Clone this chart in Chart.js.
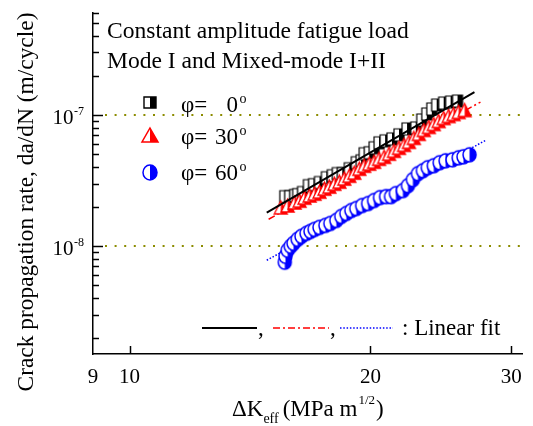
<!DOCTYPE html>
<html>
<head>
<meta charset="utf-8">
<script src="https://cdn.jsdelivr.net/npm/chart.js@4.4.0/dist/chart.umd.min.js"></script>
<style>
  html, body { margin: 0; padding: 0; background: #fff; }
  #wrap { width: 533px; height: 426px; }
</style>
</head>
<body>
<div id="wrap"><canvas id="c" width="533" height="426"></canvas></div>
<script>
// phi = 0 deg (squares): delta K_eff (MPa m^1/2) and da/dN (m/cycle)
const k0 = [15.63, 15.85, 16.08, 16.22, 16.45, 16.73, 16.98, 17.27, 17.62, 17.92, 18.18, 18.44, 18.82, 19.20, 19.47, 19.64,
            19.93, 20.21, 20.50, 20.86, 21.28, 21.71, 22.22, 22.79, 23.18, 23.52, 23.86, 24.20, 24.69, 25.19, 25.70];
const r0 = [2.38e-8, 2.38e-8, 2.43e-8, 2.47e-8, 2.56e-8, 2.89e-8, 2.94e-8, 3.05e-8, 3.32e-8, 3.44e-8, 3.57e-8, 3.57e-8,
            3.89e-8, 4.32e-8, 4.47e-8, 5.06e-8, 5.15e-8, 5.62e-8, 6.13e-8, 6.35e-8, 6.57e-8, 7.05e-8, 7.83e-8, 7.97e-8,
            9.16e-8, 10.18e-8, 11.11e-8, 11.91e-8, 12.33e-8, 12.55e-8, 12.77e-8];

// phi = 30 deg (triangles)
const k30 = [15.45, 15.76, 16.08, 16.31, 16.54, 16.79, 17.03, 17.27, 17.52, 17.77, 18.03, 18.29, 18.55, 18.82, 19.09, 19.37,
             19.64, 19.93, 20.21, 20.50, 20.80, 21.10, 21.40, 21.71, 22.03, 22.34, 22.66, 22.99, 23.32, 23.66, 24.00, 24.34,
             24.69, 25.05, 25.41, 25.78, 26.23];
const r30 = [1.97e-8, 2.04e-8, 2.15e-8, 2.22e-8, 2.34e-8, 2.43e-8, 2.51e-8, 2.60e-8, 2.74e-8, 2.84e-8, 2.99e-8, 3.10e-8,
             3.27e-8, 3.44e-8, 3.63e-8, 3.89e-8, 4.10e-8, 4.25e-8, 4.40e-8, 4.63e-8, 4.80e-8, 5.06e-8, 5.33e-8, 5.62e-8,
             5.92e-8, 6.24e-8, 6.69e-8, 7.18e-8, 7.69e-8, 8.11e-8, 8.54e-8, 9.00e-8, 9.49e-8, 9.83e-8, 10.18e-8, 10.54e-8,
             10.91e-8];

// phi = 60 deg (circles)
const k60 = [15.63, 15.66, 15.76, 15.90, 16.03, 16.22, 16.40, 16.64, 16.83, 17.03, 17.27, 17.57, 17.82, 18.13, 18.39, 18.66,
             18.93, 19.20, 19.53, 19.87, 20.21, 20.56, 20.92, 21.22, 21.52, 21.96, 22.28, 22.60, 22.93, 23.26, 23.59, 24.00,
             24.41, 24.83, 25.33, 25.78, 26.14, 26.60];
const r60 = [0.752e-8, 0.835e-8, 0.928e-8, 0.995e-8, 1.048e-8, 1.124e-8, 1.185e-8, 1.249e-8, 1.293e-8, 1.339e-8, 1.387e-8,
             1.436e-8, 1.487e-8, 1.567e-8, 1.680e-8, 1.771e-8, 1.866e-8, 1.933e-8, 2.037e-8, 2.110e-8, 2.223e-8, 2.343e-8,
             2.384e-8, 2.384e-8, 2.513e-8, 2.648e-8, 2.889e-8, 3.209e-8, 3.565e-8, 3.757e-8, 3.960e-8, 4.100e-8, 4.320e-8,
             4.473e-8, 4.552e-8, 4.714e-8, 4.799e-8, 4.969e-8];

// linear fits (end points)
const fit0K = [14.84, 26.98];
const fit0R = [1.80e-8, 1.495e-7];
const fit30K = [14.92, 27.45];
const fit30R = [1.60e-8, 1.255e-7];
const fit60K = [14.84, 27.93];
const fit60R = [7.79e-9, 6.46e-8];

const xTicks = [9, 10, 20, 30];
const yMajor = [1e-8, 1e-7];
const yMajorExp = ['-8', '-7'];
const legendAngles = ['0', '30', '60'];

const FONT = 'Liberation Serif';
const pts = (xs, ys) => xs.map((x, i) => ({ x: x, y: ys[i] }));

// half-filled marker (left half white, right half coloured)
function makeMarker(shape, color, w, h, lw) {
  const pad = 2;
  const c = document.createElement('canvas');
  c.width = w + pad * 2;
  c.height = h + pad * 2;
  const g = c.getContext('2d');
  const cx = c.width / 2, cy = c.height / 2;
  const path = () => {
    g.beginPath();
    if (shape === 'square') g.rect(cx - w / 2, cy - h / 2, w, h);
    else if (shape === 'triangle') {
      g.moveTo(cx, cy - h / 2);
      g.lineTo(cx + w / 2, cy + h / 2);
      g.lineTo(cx - w / 2, cy + h / 2);
      g.closePath();
    } else g.ellipse(cx, cy, w / 2, h / 2, 0, 0, Math.PI * 2);
  };
  path(); g.fillStyle = '#fff'; g.fill();
  g.save();
  g.beginPath(); g.rect(cx, 0, c.width, c.height); g.clip();
  path(); g.fillStyle = color; g.fill();
  g.restore();
  path(); g.strokeStyle = color; g.lineWidth = lw || 1.2; g.stroke();
  return c;
}

const sqImg = makeMarker('square', '#000', 10, 12, 1.2);
const triImg = makeMarker('triangle', '#ff0000', 13, 13, 1.3);
const cirImg = makeMarker('circle', '#0000ff', 13, 14, 1.5);
const legendImgs = [
  makeMarker('square', '#000', 12, 11, 1.4),
  makeMarker('triangle', '#ff0000', 16, 14, 1.5),
  makeMarker('circle', '#0000ff', 14, 15, 1.5)
];

function fitFont(ctx, text, target) {
  ctx.font = '20px "' + FONT + '"';
  return 20 * target / ctx.measureText(text).width;
}

const refLines = {
  id: 'refLines',
  beforeDatasetsDraw(chart) {
    const { ctx, chartArea: a, scales: { y } } = chart;
    ctx.save();
    ctx.strokeStyle = '#8c8c00';
    ctx.lineWidth = 2;
    ctx.setLineDash([2, 7.6]);
    yMajor.forEach(v => {
      const py = Math.round(y.getPixelForValue(v));
      ctx.beginPath();
      ctx.moveTo(a.left + 12, py);
      ctx.lineTo(a.right, py);
      ctx.stroke();
    });
    ctx.restore();
  }
};

const decor = {
  id: 'decor',
  afterDraw(chart) {
    const { ctx, chartArea: a, scales: { x, y } } = chart;
    ctx.save();
    ctx.strokeStyle = '#000';
    ctx.fillStyle = '#000';
    ctx.lineWidth = 1.5;

    // y ticks (inward), minor 2..9 in each decade
    for (let e = -10; e <= -6; e++) {
      for (let m = 1; m <= 9; m++) {
        const v = m * Math.pow(10, e);
        if (v < y.min * 0.999 || v > y.max * 1.001) continue;
        const py = Math.round(y.getPixelForValue(v)) + 0.5;
        ctx.beginPath();
        ctx.moveTo(a.left, py);
        ctx.lineTo(a.left + (m === 1 ? 10 : 6), py);
        ctx.stroke();
      }
    }
    // x ticks (inward)
    xTicks.slice(1).forEach(v => {
      const px = Math.round(x.getPixelForValue(v)) + 0.5;
      ctx.beginPath();
      ctx.moveTo(px, a.bottom);
      ctx.lineTo(px, a.bottom - 8);
      ctx.stroke();
    });

    // y tick labels 10^n
    yMajor.forEach((v, i) => {
      const py = y.getPixelForValue(v);
      ctx.font = '21px "' + FONT + '"';
      ctx.textAlign = 'right';
      ctx.textBaseline = 'alphabetic';
      ctx.fillText('10', 73.5, py + 9);
      ctx.font = '12px "' + FONT + '"';
      ctx.textAlign = 'left';
      ctx.fillText(yMajorExp[i], 74, py);
    });

    // y title
    const yTitle = 'Crack propagation rate, da/dN (m/cycle)';
    const ys = fitFont(ctx, yTitle, 379);
    ctx.save();
    ctx.translate(33, 202);
    ctx.rotate(-Math.PI / 2);
    ctx.font = ys.toFixed(2) + 'px "' + FONT + '"';
    ctx.textAlign = 'center';
    ctx.textBaseline = 'alphabetic';
    ctx.fillText(yTitle, 0, 0);
    ctx.restore();

    // x title: ΔK_eff (MPa m^1/2)
    ctx.textAlign = 'left';
    ctx.textBaseline = 'alphabetic';
    let cx = 232;
    const base = 416;
    ctx.font = '23px "' + FONT + '"';
    ctx.fillText('\u0394K', cx, base);
    cx += ctx.measureText('\u0394K').width;
    ctx.font = '14px "' + FONT + '"';
    ctx.fillText('eff', cx, base + 7);
    cx += ctx.measureText('eff').width + 4;
    ctx.font = '23px "' + FONT + '"';
    ctx.fillText('(MPa m', cx, base);
    cx += ctx.measureText('(MPa m').width + 1;
    ctx.font = '13px "' + FONT + '"';
    ctx.fillText('1/2', cx, base - 12);
    cx += ctx.measureText('1/2').width + 1;
    ctx.font = '23px "' + FONT + '"';
    ctx.fillText(')', cx, base);

    // annotation
    const t1 = 'Constant amplitude fatigue load';
    const t2 = 'Mode I and Mixed-mode I+II';
    const fs = (fitFont(ctx, t1, 303) + fitFont(ctx, t2, 278)) / 2;
    ctx.font = fs.toFixed(2) + 'px "' + FONT + '"';
    ctx.fillText(t1, 107, 38);
    ctx.fillText(t2, 107, 68);

    // legend of symbols
    const markY = [102, 135, 172];
    const textY = [112, 144, 180];
    legendImgs.forEach((img, i) => {
      ctx.drawImage(img, Math.round(149.5 - img.width / 2), Math.round(markY[i] - img.height / 2));
      ctx.font = '23px "' + FONT + '"';
      ctx.textAlign = 'left';
      ctx.fillText('\u03C6=', 181, textY[i]);
      ctx.textAlign = 'right';
      ctx.fillText(legendAngles[i], 238, textY[i]);
      ctx.textAlign = 'left';
      ctx.font = '14px "' + FONT + '"';
      ctx.fillText('o', 239.5, textY[i] - 9);
    });

    // linear fit key
    const ly = 328;
    ctx.lineWidth = 2;
    ctx.strokeStyle = '#000';
    ctx.setLineDash([]);
    ctx.beginPath(); ctx.moveTo(202, ly); ctx.lineTo(257, ly); ctx.stroke();
    ctx.lineWidth = 1.5;
    ctx.strokeStyle = '#ff0000';
    ctx.setLineDash([7, 3, 2, 3]);
    ctx.beginPath(); ctx.moveTo(273, ly); ctx.lineTo(329, ly); ctx.stroke();
    ctx.strokeStyle = '#0000ff';
    ctx.setLineDash([1.5, 1.8]);
    ctx.beginPath(); ctx.moveTo(340, ly); ctx.lineTo(393, ly); ctx.stroke();
    ctx.setLineDash([]);
    ctx.font = '23px "' + FONT + '"';
    ctx.textAlign = 'left';
    ctx.fillStyle = '#000';
    ctx.fillText(',', 258, 335);
    ctx.fillText(',', 330, 335);
    ctx.fillText(': Linear fit', 402, 335);
    ctx.restore();
  }
};

new Chart(document.getElementById('c'), {
  type: 'scatter',
  data: {
    datasets: [
      { label: 'fit 0', data: pts(fit0K, fit0R), showLine: true, borderColor: '#000', borderWidth: 2,
        pointRadius: 0, order: 0 },
      { label: '\u03C6 = 60', data: pts(k60, r60), pointStyle: cirImg, pointRadius: 6, order: 1 },
      { label: '\u03C6 = 30', data: pts(k30, r30), pointStyle: triImg, pointRadius: 6, order: 2 },
      { label: '\u03C6 = 0', data: pts(k0, r0), pointStyle: sqImg, pointRadius: 6, order: 3 },
      { label: 'fit 60', data: pts(fit60K, fit60R), showLine: true, borderColor: '#0000ff', borderWidth: 1.5,
        borderDash: [1.5, 1.8], pointRadius: 0, order: 4 },
      { label: 'fit 30', data: pts(fit30K, fit30R), showLine: true, borderColor: '#ff0000', borderWidth: 1.5,
        borderDash: [7, 3, 2, 3], pointRadius: 0, order: 5 }
    ]
  },
  options: {
    responsive: false,
    animation: false,
    events: [],
    layout: { padding: { top: 13, right: 7, left: 0, bottom: 0 } },
    plugins: { legend: { display: false }, tooltip: { enabled: false } },
    scales: {
      x: {
        type: 'logarithmic', position: 'bottom', min: 9, max: 31,
        grid: { display: false, drawTicks: false },
        border: { display: true, color: '#000', width: 1.5 },
        ticks: { font: { family: FONT, size: 21 }, color: '#000', padding: 11, maxRotation: 0, autoSkip: false,
                 callback: v => String(v) },
        afterBuildTicks: s => { s.ticks = xTicks.map(v => ({ value: v })); },
        afterFit: s => { s.height = 72; }
      },
      y: {
        type: 'logarithmic', position: 'left', min: 1.5e-9, max: 6e-7,
        grid: { display: false, drawTicks: false },
        border: { display: true, color: '#000', width: 1.5 },
        ticks: { display: false },
        afterFit: s => { s.width = 93; }
      }
    }
  },
  plugins: [refLines, decor]
});
</script>
</body>
</html>
